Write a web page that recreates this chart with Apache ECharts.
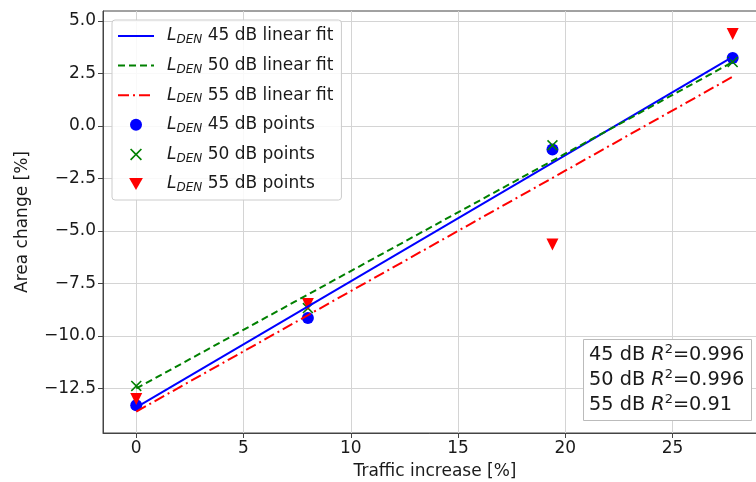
<!DOCTYPE html>
<html>
<head>
<meta charset="utf-8">
<script src="https://cdn.jsdelivr.net/npm/echarts@6/dist/echarts.min.js"></script>
<style>
  html, body { margin: 0; padding: 0; background: #fff; }
  #chart { width: 756px; height: 482px; }
</style>
</head>
<body>
<div id="chart"></div>
<script>
// data
var fitX = [0, 27.8];
var fit45 = [-13.4, 3.3];
var fit50 = [-12.5, 3.05];
var fit55 = [-13.6, 2.35];
var traffic = [0, 8, 19.4, 27.8];
var area45 = [-13.3, -9.14, -1.12, 3.24];
var area50 = [-12.38, -8.67, -0.92, 3.05];
var area55 = [-13.0, -8.48, -5.64, 4.38];
var xTicks = [0, 5, 10, 15, 20, 25];
var yTicks = [-12.5, -10, -7.5, -5, -2.5, 0, 2.5, 5];
var r2Labels = ["45 dB", "50 dB", "55 dB"];
var r2Values = ["0.996", "0.996", "0.91"];

var FONT = "DejaVu Sans";
var TXT = "#1a1a1a";

function pairs(xs, ys) {
  return xs.map(function (x, i) { return [x, ys[i]]; });
}
function minusFmt(v) {
  return String(v).indexOf("-") === 0 ? "\u2212" + String(v).slice(1) : String(v);
}

var chart = echarts.init(document.getElementById("chart"));

var xMark = "path://M1,0 L5,4 L9,0 L10,1 L6,5 L10,9 L9,10 L5,6 L1,10 L0,9 L4,5 L0,1Z";
var triDown = "path://M0,0 L10,0 L5,8.7Z";

var r2Text = r2Labels.map(function (l, i) {
  return l + " {R|R}{sup|2}=" + r2Values[i];
}).join("\n");

// hide the marker that ECharts puts on line legend icons
var noMarker = { opacity: 0 };

var option = {
  animation: false,
  grid: {
    left: 103, top: 11, width: 664, height: 422,
    outerBoundsMode: "none",
    containLabel: false,
    show: true, borderColor: "#444", borderWidth: 1
  },
  xAxis: {
    type: "value",
    min: -1.55, max: 29.4,
    name: "Traffic increase [%]",
    nameLocation: "middle",
    nameGap: 30,
    nameTextStyle: { fontFamily: FONT, fontSize: 17, color: TXT },
    axisLine: { show: true, onZero: false, lineStyle: { color: "#444" } },
    axisTick: { show: true, length: 5, customValues: xTicks, lineStyle: { color: "#444" } },
    axisLabel: { customValues: xTicks, margin: 7, fontFamily: FONT, fontSize: 17, color: TXT, formatter: minusFmt },
    splitLine: { show: true, lineStyle: { color: "#d4d4d4", width: 1 } }
  },
  yAxis: {
    type: "value",
    min: -14.62, max: 5.48,
    name: "Area change [%]",
    nameLocation: "middle",
    nameRotate: 90,
    nameGap: 72,
    nameTextStyle: { fontFamily: FONT, fontSize: 17, color: TXT },
    axisLine: { show: true, onZero: false, lineStyle: { color: "#444" } },
    axisTick: { show: true, length: 5, customValues: yTicks, lineStyle: { color: "#444" } },
    axisLabel: {
      customValues: yTicks, margin: 7, fontFamily: FONT, fontSize: 17, color: TXT,
      formatter: function (v) { return minusFmt(v.toFixed(1)); }
    },
    splitLine: { show: true, lineStyle: { color: "#d4d4d4", width: 1 } }
  },
  legend: {
    orient: "vertical",
    left: 112, top: 20,
    itemWidth: 36, itemHeight: 12,
    itemGap: 9.6,
    padding: [6, 8, 6, 5],
    backgroundColor: "rgba(255,255,255,0.85)",
    borderColor: "#cccccc", borderWidth: 1, borderRadius: 3,
    data: [
      { name: "45 dB linear fit", itemStyle: noMarker },
      { name: "50 dB linear fit", itemStyle: noMarker },
      { name: "55 dB linear fit", itemStyle: noMarker },
      { name: "45 dB points" },
      { name: "50 dB points" },
      { name: "55 dB points", icon: triDown }
    ],
    formatter: function (name) { return "{L|L}{s|DEN}{t| " + name + "}"; },
    textStyle: {
      fontFamily: FONT, fontSize: 17, color: TXT, lineHeight: 20,
      rich: {
        L: { fontFamily: FONT, fontStyle: "italic", fontSize: 17, color: TXT, padding: [0, 0, 0, 8], lineHeight: 20 },
        s: { fontFamily: FONT, fontStyle: "italic", fontSize: 12, color: TXT, verticalAlign: "bottom", lineHeight: 20 },
        t: { fontFamily: FONT, fontSize: 17, color: TXT, lineHeight: 20 }
      }
    }
  },
  title: {
    text: r2Text,
    left: 583, top: 339,
    padding: [3, 7, 4, 6],
    backgroundColor: "#fff",
    borderColor: "#bbbbbb", borderWidth: 1,
    textStyle: {
      fontFamily: FONT, fontSize: 19.3, fontWeight: "normal", color: TXT, lineHeight: 25,
      rich: {
        R: { fontFamily: FONT, fontStyle: "italic", fontSize: 19.3, color: TXT, lineHeight: 25 },
        sup: { fontFamily: FONT, fontSize: 13, color: TXT, verticalAlign: "top", lineHeight: 25, padding: [1, 0, 0, 0] }
      }
    }
  },
  series: [
    {
      name: "45 dB linear fit", type: "line", symbol: "none", z: 3,
      data: pairs(fitX, fit45),
      lineStyle: { color: "#0000ff", width: 2 }, itemStyle: { color: "#0000ff" }
    },
    {
      name: "50 dB linear fit", type: "line", symbol: "none", z: 3,
      data: pairs(fitX, fit50),
      lineStyle: { color: "#008000", width: 2, type: [7, 4] }, itemStyle: { color: "#008000" }
    },
    {
      name: "55 dB linear fit", type: "line", symbol: "none", z: 3,
      data: pairs(fitX, fit55),
      lineStyle: { color: "#ff0000", width: 2, type: [11, 4, 2, 4] }, itemStyle: { color: "#ff0000" }
    },
    {
      name: "45 dB points", type: "scatter", symbol: "circle", symbolSize: 12, z: 2,
      data: pairs(traffic, area45), itemStyle: { color: "#0000ff", opacity: 1 }
    },
    {
      name: "50 dB points", type: "scatter", symbol: xMark, symbolSize: 11, z: 2,
      data: pairs(traffic, area50), itemStyle: { color: "#008000", opacity: 1 }
    },
    {
      name: "55 dB points", type: "scatter", symbol: triDown, symbolSize: 12, z: 2,
      data: pairs(traffic, area55), itemStyle: { color: "#ff0000", opacity: 1 }
    }
  ]
};

chart.setOption(option);
</script>
</body>
</html>
